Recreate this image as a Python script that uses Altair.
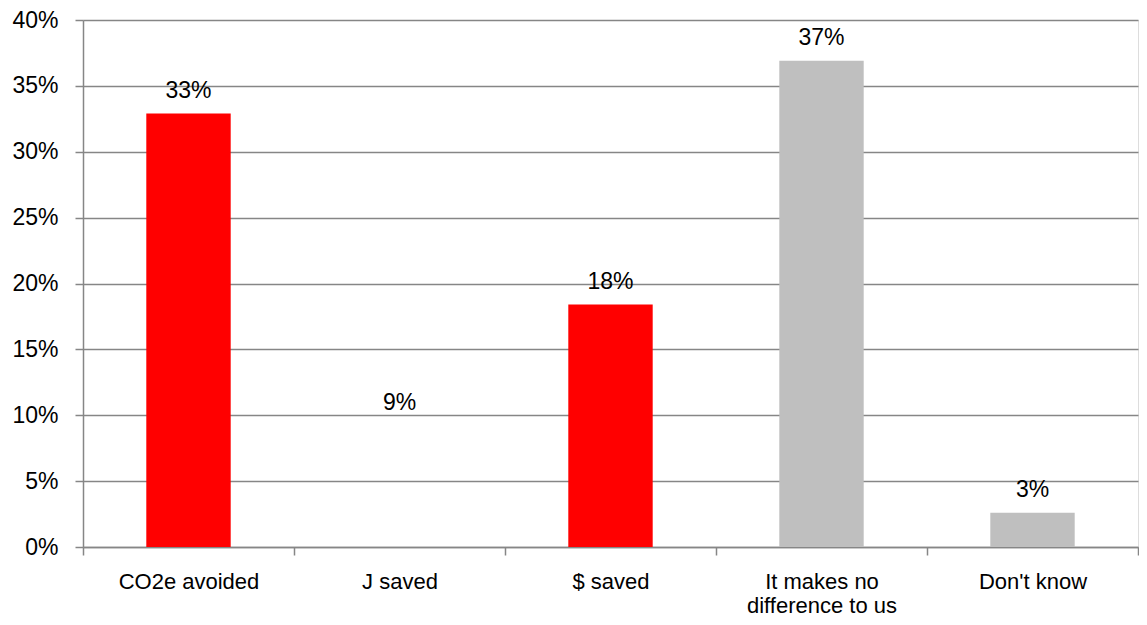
import altair as alt
import pandas as pd

categories = ["CO2e avoided", "J saved", "$ saved", "It makes no difference to us", "Don't know"]
values = [0.329, 0.092, 0.184, 0.369, 0.026]
bar_colors = ["#FF0000", "transparent", "#FF0000", "#BFBFBF", "#BFBFBF"]
y_ticks = [0, 0.05, 0.10, 0.15, 0.20, 0.25, 0.30, 0.35, 0.40]

df = pd.DataFrame({"category": categories, "value": values})

FONT = "Liberation Sans"
FS = 23
GRID = "#868686"

x_enc = alt.X(
    "category:N",
    sort=categories,
    title=None,
    scale=alt.Scale(paddingInner=0, paddingOuter=0),
    axis=alt.Axis(
        labelAngle=0,
        labelFont=FONT,
        labelFontSize=22,
        labelColor="#000000",
        labelPadding=16,
        labelLineHeight=24,
        labelExpr="datum.label == 'It makes no difference to us' ? ['It makes no', 'difference to us'] : datum.label",
        tickBand="extent",
        tickSize=8,
        tickColor=GRID,
        tickWidth=1.5,
        domainColor=GRID,
        domainWidth=1.5,
        grid=False,
    ),
)

y_enc = alt.Y(
    "value:Q",
    title=None,
    scale=alt.Scale(domain=[0, 0.40], nice=False),
    axis=alt.Axis(
        values=y_ticks,
        format=".0%",
        labelFont=FONT,
        labelFontSize=FS,
        labelColor="#000000",
        labelPadding=17,
        tickSize=8,
        tickColor=GRID,
        tickWidth=1.5,
        domainColor=GRID,
        domainWidth=1.5,
        gridColor=GRID,
        gridWidth=1.5,
    ),
)

bars = alt.Chart(df).mark_bar(width=alt.RelativeBandSize(0.4)).encode(
    x=x_enc,
    y=y_enc,
    color=alt.Color(
        "category:N",
        scale=alt.Scale(domain=categories, range=bar_colors),
        legend=None,
    ),
)

labels = alt.Chart(df).mark_text(
    font=FONT, fontSize=FS, color="#000000", baseline="alphabetic", dy=-16
).encode(
    x=alt.X("category:N", sort=categories),
    y=alt.Y("value:Q"),
    text=alt.Text("value:Q", format=".0%"),
)

chart = (
    alt.layer(bars, labels)
    .properties(
        width=1055,
        height=527,
        autosize=alt.AutoSizeParams(type="none"),
        padding={"left": 75, "top": 12, "right": 1, "bottom": 70},
    )
    .configure_view(stroke=None)
    .configure(background="#FFFFFF")
)

chart.save("out.html", embed_options={"renderer": "svg", "actions": False})
